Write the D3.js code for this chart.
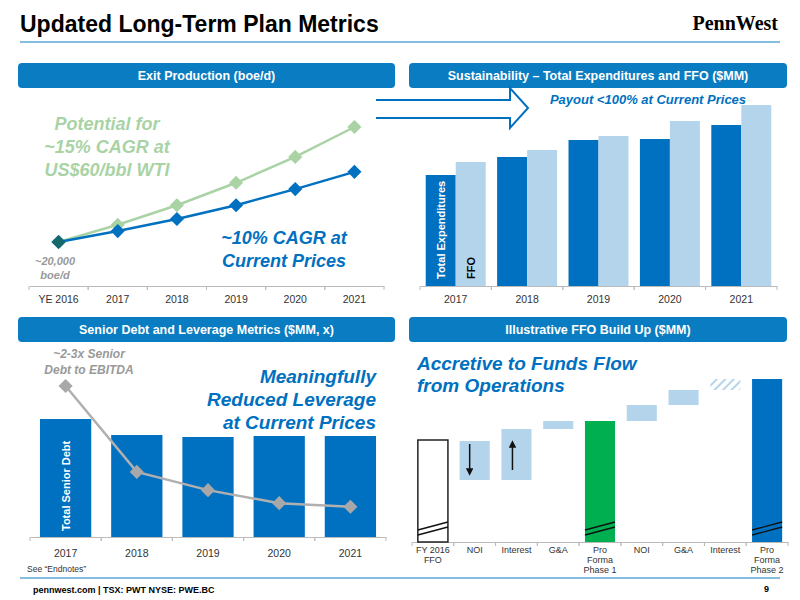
<!DOCTYPE html>
<html><head><meta charset="utf-8">
<script src="https://cdn.jsdelivr.net/npm/d3@7"></script>
<style>body{margin:0;background:#fff}text{font-family:"Liberation Sans",Arial,sans-serif}</style>
</head><body><svg width="800" height="600"></svg>
<script>
// ---- data ----
const prodYears = ["YE 2016","2017","2018","2019","2020","2021"];
const prodCurrent = [20, 21.9, 24, 26.4, 29.2, 32.2];   // kboe/d
const prodPotential = [20, 23, 26.4, 30.3, 34.8, 40];
const years = ["2017","2018","2019","2020","2021"];
const totalExp = [555, 645, 730, 735, 805];
const ffo = [620, 680, 750, 825, 905];
const seniorDebt = [1180, 1020, 1000, 1010, 1010];
const leverage = [2.9, 1.25, 0.9, 0.65, 0.58];
const wfCats = ["FY 2016|FFO","NOI","Interest","G&A","Pro|Forma|Phase 1","NOI","G&A","Interest","Pro|Forma|Phase 2"];
const wfLow  = [0, 62, 62, 113, 0, 121, 137, 152, 0];
const wfHigh = [102, 101, 113, 121, 121, 137, 152, 163, 163];
const wfType = ["outline","step","step","step","green","step","step","hatch","blue"];

const DARK = "#0070c0", LIGHT = "#b4d4ec", HEAD = "#0a7cc1";
const svg = d3.select("svg");
const defs = svg.append("defs");
defs.append("pattern").attr("id","hatch").attr("width",6).attr("height",6)
  .attr("patternUnits","userSpaceOnUse").attr("patternTransform","rotate(45)")
  .append("rect").attr("width",2).attr("height",6).attr("fill",LIGHT);

// ---- title ----
svg.append("text").attr("x",20).attr("y",32).attr("font-size",23).attr("font-weight","bold").text("Updated Long-Term Plan Metrics");
svg.append("text").attr("x",778).attr("y",30).attr("text-anchor","end").attr("font-size",20).attr("font-weight","bold")
  .style("font-family","'Liberation Serif',serif").text("PennWest");
svg.append("line").attr("x1",20).attr("x2",780).attr("y1",42).attr("y2",42).attr("stroke","#5aa7d6").attr("stroke-width",1.5);
svg.append("line").attr("x1",20).attr("x2",780).attr("y1",578).attr("y2",578).attr("stroke","#5aa7d6").attr("stroke-width",1.5);
svg.append("text").attr("x",33).attr("y",593).attr("font-size",9).attr("font-weight","bold").text("pennwest.com | TSX: PWT  NYSE: PWE.BC");
svg.append("text").attr("x",764).attr("y",592).attr("font-size",9).attr("font-weight","bold").text("9");

function header(x, y, w, label) {
  svg.append("rect").attr("x",x).attr("y",y).attr("width",w).attr("height",25).attr("rx",4).attr("fill",HEAD);
  svg.append("text").attr("x",x+w/2).attr("y",y+17).attr("text-anchor","middle").attr("fill","#fff")
    .attr("font-size",12.5).attr("font-weight","bold").text(label);
}
header(18,63,377,"Exit Production (boe/d)");
header(409,63,378,"Sustainability – Total Expenditures and FFO ($MM)");
header(18,317,377,"Senior Debt and Leverage Metrics ($MM, x)");
header(409,317,378,"Illustrative FFO Build Up ($MM)");

function axis(x, y, tickY, lines) {
  const g = svg.append("g").attr("transform","translate(0,"+tickY+")")
    .call(d3.axisBottom(x).tickSize(0).tickFormat(""));
  g.select(".domain").attr("stroke","#bbb");
  const step = x.step();
  x.domain().forEach((d,i) => {
    const cx = x(d) + (x.bandwidth ? x.bandwidth()/2 : 0);
    [cx - step/2, cx + step/2].forEach(ex => g.append("line").attr("x1",ex).attr("x2",ex).attr("y1",0).attr("y2",4).attr("stroke","#bbb"));
    const parts = lines ? lines[i].split("|") : [d];
    parts.forEach((p,j) => g.append("text").attr("x",cx).attr("y",y - tickY + j*10).attr("text-anchor","middle")
      .attr("font-size",lines ? 9 : 10.5).attr("fill","#333").text(p));
  });
}

// ---- panel 1: production ----
const x1 = d3.scalePoint().domain(prodYears).range([29,384]).padding(0.5);
const y1 = d3.scaleLinear().domain([20,40]).range([242,127]);
axis(x1, 303, 286);
const lineP = d3.line().x((d,i)=>x1(prodYears[i])).y(d=>y1(d));
[[prodPotential,"#a9d3a5"],[prodCurrent,DARK]].forEach(([s,c]) => {
  svg.append("path").attr("d",lineP(s)).attr("fill","none").attr("stroke",c).attr("stroke-width",2.5);
  svg.selectAll(null).data(s).enter().append("rect")
    .attr("x",-5).attr("y",-5).attr("width",10).attr("height",10).attr("fill",c)
    .attr("transform",(d,i)=>"translate("+x1(prodYears[i])+","+y1(d)+") rotate(45)");
});
svg.append("rect").attr("x",-5).attr("y",-5).attr("width",10).attr("height",10).attr("fill","#146a6a")
  .attr("transform","translate("+x1(prodYears[0])+","+y1(prodCurrent[0])+") rotate(45)");
function txt(x, y, lines, size, color, anchor, lh) {
  lines.forEach((l,i) => svg.append("text").attr("x",x).attr("y",y+i*lh).attr("text-anchor",anchor)
    .attr("font-size",size).attr("font-weight","bold").attr("font-style","italic").attr("fill",color).text(l));
}
txt(107,130,["Potential for","~15% CAGR at","US$60/bbl WTI"],18,"#a9d3a5","middle",23);
txt(284,244,["~10% CAGR at","Current Prices"],18,DARK,"middle",23);
txt(55,265,["~20,000","boe/d"],11,"#999","middle",14);

// arrow
svg.append("path").attr("d","M376,100 L510,100 L510,88 L528,108 L510,128 L510,118 L376,118")
  .attr("fill","#fff").attr("stroke",DARK).attr("stroke-width",2);

// ---- panel 2: expenditures ----
const x2 = d3.scaleBand().domain(years).range([420,777]).paddingInner(0.16).paddingOuter(0.08);
const y2 = d3.scaleLinear().domain([0,1000]).range([286,86]);
axis(x2, 303, 286);
const half = x2.bandwidth()/2;
svg.selectAll(null).data(totalExp).enter().append("rect").attr("x",(d,i)=>x2(years[i])).attr("y",d=>y2(d))
  .attr("width",half).attr("height",d=>y2(0)-y2(d)).attr("fill",DARK);
svg.selectAll(null).data(ffo).enter().append("rect").attr("x",(d,i)=>x2(years[i])+half).attr("y",d=>y2(d))
  .attr("width",half).attr("height",d=>y2(0)-y2(d)).attr("fill",LIGHT);
svg.append("text").attr("transform","translate("+(x2("2017")+half/2+4)+",279) rotate(-90)").attr("font-size",11)
  .attr("font-weight","bold").attr("fill","#fff").text("Total Expenditures");
svg.append("text").attr("transform","translate("+(x2("2017")+half*1.5+4)+",279) rotate(-90)").attr("font-size",11)
  .attr("font-weight","bold").attr("fill","#000").text("FFO");
txt(648,104,["Payout <100% at Current Prices"],13,DARK,"middle",0);

// ---- panel 3: debt ----
const x3 = d3.scaleBand().domain(years).range([30,386]).paddingInner(0.28).paddingOuter(0.14);
const y3 = d3.scaleLinear().domain([0,1500]).range([537,387]);
const yl = d3.scaleLinear().domain([0,2.9]).range([537,386]);
axis(x3, 557, 537);
svg.selectAll(null).data(seniorDebt).enter().append("rect").attr("x",(d,i)=>x3(years[i])).attr("y",d=>y3(d))
  .attr("width",x3.bandwidth()).attr("height",d=>y3(0)-y3(d)).attr("fill",DARK);
svg.append("text").attr("transform","translate("+(x3("2017")+x3.bandwidth()/2+4)+",531) rotate(-90)").attr("font-size",11)
  .attr("font-weight","bold").attr("fill","#fff").text("Total Senior Debt");
const lineL = d3.line().x((d,i)=>x3(years[i])+x3.bandwidth()/2).y(d=>yl(d));
svg.append("path").attr("d",lineL(leverage)).attr("fill","none").attr("stroke","#b0b0b0").attr("stroke-width",2.5);
svg.selectAll(null).data(leverage).enter().append("rect").attr("x",-5).attr("y",-5).attr("width",10).attr("height",10)
  .attr("fill","#a8a8a8").attr("transform",(d,i)=>"translate("+(x3(years[i])+x3.bandwidth()/2)+","+yl(d)+") rotate(45)");
txt(89,358,["~2-3x Senior","Debt to EBITDA"],12,"#999","middle",16);
txt(376,383,["Meaningfully","Reduced Leverage","at Current Prices"],19,DARK,"end",23);
svg.append("text").attr("x",27).attr("y",572).attr("font-size",8.5).attr("fill","#333").text("See \u201CEndnotes\u201D");

// ---- panel 4: waterfall ----
const x4 = d3.scaleBand().domain(wfCats.map((d,i)=>i)).range([412,788]).paddingInner(0.28).paddingOuter(0.14);
const y4 = d3.scaleLinear().domain([0,170]).range([542,372]);
axis(x4, 553, 542, wfCats);
const fills = {outline:"#fff", step:LIGHT, green:"#00b050", blue:DARK, hatch:"url(#hatch)"};
svg.selectAll(null).data(wfHigh).enter().append("rect").attr("x",(d,i)=>x4(i)).attr("y",d=>y4(d))
  .attr("width",x4.bandwidth()).attr("height",(d,i)=>y4(wfLow[i])-y4(d))
  .attr("fill",(d,i)=>fills[wfType[i]]).attr("stroke",(d,i)=>wfType[i]==="outline"?"#222":"none").attr("stroke-width",1.5);
[0,4,8].forEach(i => {
  const x0 = x4(i), w = x4.bandwidth();
  [0,5].forEach(o => svg.append("line").attr("x1",x0).attr("x2",x0+w).attr("y1",y4(7)-o).attr("y2",y4(15)-o)
    .attr("stroke","#111").attr("stroke-width",1.3));
});
svg.append("defs").html('<marker id="ah" viewBox="0 0 10 10" refX="5" refY="5" markerWidth="5" markerHeight="5" orient="auto-start-reverse"><path d="M0,0 L10,5 L0,10 z" fill="#111"/></marker>');
const cx1 = x4(1)+x4.bandwidth()/2-5, cx2 = x4(2)+x4.bandwidth()/2-4;
svg.append("line").attr("x1",cx1).attr("x2",cx1).attr("y1",y4(98)).attr("y2",y4(70)).attr("stroke","#111").attr("stroke-width",1.5).attr("marker-end","url(#ah)");
svg.append("line").attr("x1",cx2).attr("x2",cx2).attr("y1",y4(72)).attr("y2",y4(98)).attr("stroke","#111").attr("stroke-width",1.5).attr("marker-end","url(#ah)");
txt(417,370,["Accretive to Funds Flow","from Operations"],19,DARK,"start",22);
</script></body></html>
